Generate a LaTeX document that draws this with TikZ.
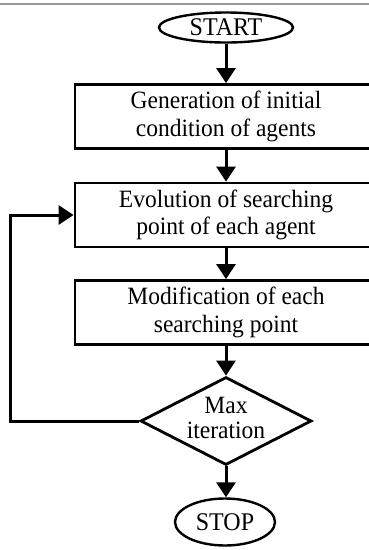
\documentclass[tikz,border=0pt]{standalone}
\usepackage{fontspec}
\setmainfont{Liberation Serif}
\usetikzlibrary{shapes.geometric,arrows.meta}
\newcommand{\tallish}[1]{\scalebox{1}[1.06]{#1}}
\begin{document}
\begin{tikzpicture}[x=1pt,y=-1pt,
  procbox/.style={draw, line width=2.8pt, minimum width=302pt, minimum height=64pt,
    inner sep=0pt, align=center, font=\fontsize{23.5}{27.5}\selectfont},
  term/.style={ellipse, draw, line width=2.4pt, inner sep=0pt, font=\fontsize{24}{26}\selectfont},
  decision/.style={diamond, draw, line width=2.8pt, minimum width=171pt, minimum height=88pt, inner sep=0pt},
  flow/.style={line width=3pt, -{Triangle[length=15pt,width=19pt]}}]
\useasboundingbox (0,0) rectangle (369,550);
\clip (0,0) rectangle (369,550);
\draw[gray!80, line width=1.5pt] (0,4) -- (369,4);
\node[term, minimum width=134pt, minimum height=30pt] (start) at (226,27.5) {\tallish{START}};
\node[procbox] (box1) at (226,116.5) {\tallish{Generation of initial}\\\tallish{condition of agents}};
\node[procbox] (box2) at (226,215) {\tallish{Evolution of searching}\\\tallish{point of each agent}};
\node[procbox] (box3) at (226,312.5) {\tallish{Modification of each}\\\tallish{searching point}};
\node[decision] (dec) at (226,421) {};
\node[font=\fontsize{23.5}{25.5}\selectfont, align=center, inner sep=0pt] (declabel) at (226,418) {\tallish{Max}\\\tallish{iteration}};
\node[term, minimum width=100pt, minimum height=47pt] (stop) at (225,522) {\tallish{STOP}};
\coordinate (lx) at (10,420);
\draw[flow] (start) -- (box1);
\draw[flow] (box1) -- (box2);
\draw[flow] (box2) -- (box3);
\draw[flow] (box3) -- (dec);
\draw[flow] (dec.south) -- (dec.south |- stop.north);
\draw[flow] (dec.west) -- (dec.west -| lx) |- (box2.west);
\end{tikzpicture}
\end{document}
